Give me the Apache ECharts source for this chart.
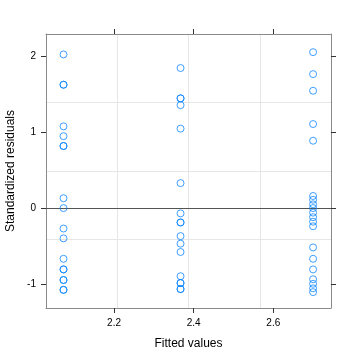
<!DOCTYPE html>
<html>
<head>
<meta charset="utf-8">
<script src="https://cdn.jsdelivr.net/npm/echarts@6/dist/echarts.min.js"></script>
<style>html,body{margin:0;padding:0;background:#fff}#c{width:360px;height:360px}</style>
</head>
<body>
<div id="c"></div>
<script>
var fittedValues = [2.073, 2.367, 2.700];
var residualsGroup1 = [2.03, 1.63, 1.63, 1.08, 0.95, 0.82, 0.82, 0.13, 0.0, -0.27, -0.40, -0.67, -0.81, -0.81, -0.95, -0.95, -1.08, -1.08];
var residualsGroup2 = [1.85, 1.45, 1.45, 1.36, 1.05, 0.33, -0.07, -0.19, -0.19, -0.37, -0.47, -0.58, -0.90, -0.99, -0.99, -1.07, -1.07];
var residualsGroup3 = [2.06, 1.77, 1.55, 1.11, 0.89, 0.16, 0.11, 0.05, 0.0, -0.06, -0.12, -0.18, -0.24, -0.52, -0.67, -0.81, -0.94, -1.00, -1.06, -1.11];
var xTicks = [2.2, 2.4, 2.6];
var yTicks = [-1, 0, 1, 2];
var xRange = [2.029, 2.745];
var yRange = [-1.32, 2.30];

var groups = [residualsGroup1, residualsGroup2, residualsGroup3];
var points = [];
groups.forEach(function (g, i) {
  g.forEach(function (v) { points.push([fittedValues[i], v]); });
});

var frameColor = '#8a8a8a';
var tickColor = '#333';
var font = 'Liberation Sans, Arial, sans-serif';

function frameAxis(pos, range, ticks, showLabels, name) {
  return {
    type: 'value', position: pos, min: range[0], max: range[1],
    axisLine: { show: true, onZero: false, lineStyle: { color: frameColor, width: 1 } },
    axisTick: { show: true, inside: false, length: 5, customValues: ticks, lineStyle: { color: tickColor, width: 1 } },
    axisLabel: { show: showLabels, customValues: ticks, margin: 10, color: '#000', fontSize: 10, fontFamily: font,
      formatter: function (v) { return String(Math.round(v * 10) / 10); } },
    splitLine: { show: false },
    name: name || '', nameLocation: 'middle',
    nameTextStyle: { color: '#000', fontSize: 12, fontFamily: font }
  };
}

var xb = frameAxis('bottom', xRange, xTicks, true, 'Fitted values'); xb.nameGap = 30;
var xt = frameAxis('top', xRange, xTicks, false);
var yl = frameAxis('left', yRange, yTicks, true, 'Standardized residuals'); yl.nameGap = 27;
var yr = frameAxis('right', yRange, yTicks, false);
function gridAxis() {
  return { type: 'value', min: 0, max: 4, interval: 1, show: true,
    axisLine: { show: false }, axisTick: { show: false }, axisLabel: { show: false },
    splitLine: { show: true, lineStyle: { color: '#e6e6e6', width: 1 } } };
}
var xg = gridAxis(); var yg = gridAxis();

var chart = echarts.init(document.getElementById('c'), null, { renderer: 'canvas' });
chart.setOption({
  animation: false,
  backgroundColor: '#fff',
  grid: { left: 46, top: 34, right: 29, bottom: 52, containLabel: false, outerBoundsMode: 'none' },
  xAxis: [xb, xt, xg],
  yAxis: [yl, yr, yg],
  series: [
    { type: 'line', xAxisIndex: 2, yAxisIndex: 2, data: [], silent: true },
    {
      type: 'scatter', xAxisIndex: 0, yAxisIndex: 0, data: points,
      symbol: 'circle', symbolSize: 7,
      itemStyle: { color: 'rgba(0,0,0,0)', borderColor: '#0080ff', borderWidth: 1, opacity: 0.75 },
      z: 5,
      markLine: {
        silent: true, symbol: 'none', label: { show: false },
        lineStyle: { color: '#555', width: 1, type: 'solid', opacity: 1 },
        data: [{ yAxis: 0 }]
      }
    }
  ]
});
</script>
</body>
</html>
